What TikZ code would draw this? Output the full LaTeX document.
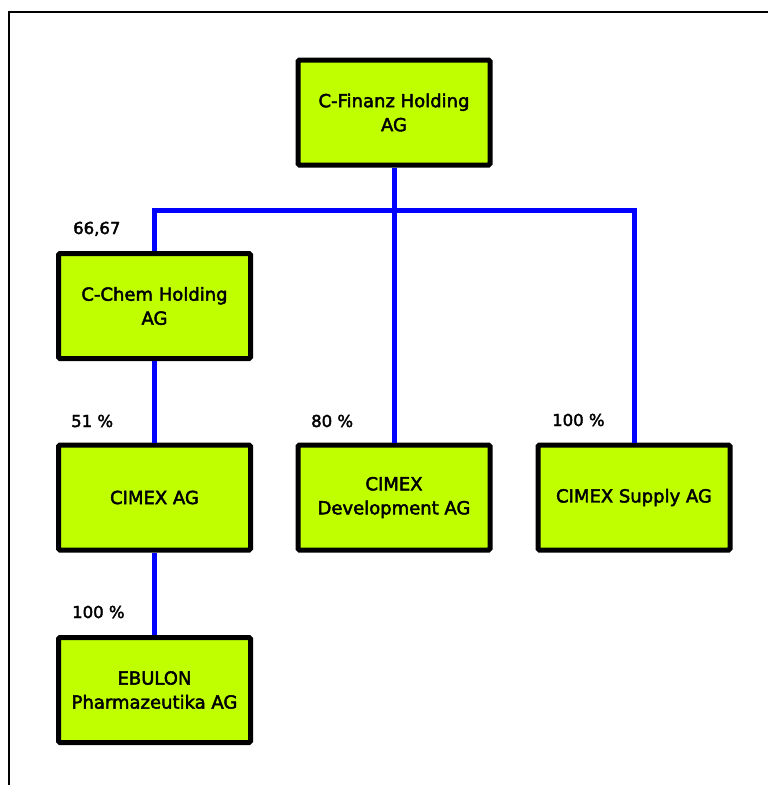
\documentclass[tikz,border=0pt]{standalone}
\usepackage{fontspec}
\setmainfont{DejaVu Sans}
\newfontfamily\orgfont{DejaVu Sans}[FakeBold=2.4]
\definecolor{boxlime}{RGB}{191,255,0}
\definecolor{linkblue}{RGB}{0,0,255}
\begin{document}
\begin{tikzpicture}[x=1pt,y=-1pt,
  company/.style={draw=black, line width=5pt, fill=boxlime, rounded corners=1.5pt,
    minimum width=192pt, minimum height=105pt, inner sep=0pt, align=center,
    font=\orgfont\fontsize{18}{24}\selectfont},
  link/.style={draw=linkblue, line width=5pt},
  share/.style={anchor=base west, inner sep=0pt, font=\orgfont\fontsize{16.5}{20}\selectfont},
  frameline/.style={line width=2pt}]
\useasboundingbox (0,0) rectangle (768,785);

% outer frame (top and left edges)
\draw[frameline] (9,785) -- (9,12) -- (768,12);

% companies
\node[company] (fin)  at (394,112.5) {C-Finanz Holding\\AG};
\node[company] (chem) at (154.5,306) {C-Chem Holding\\AG};
\node[company] (cimex) at (154.5,497.5) {CIMEX AG};
\node[company] (dev)  at (394,497.5) {CIMEX\\Development AG};
\node[company] (sup)  at (634,497.5) {CIMEX Supply AG};
\node[company] (ebu)  at (154.5,690) {EBULON\\Pharmazeutika AG};

% ownership links
\coordinate (bus) at (394,210);
\draw[link] (fin.south) -- (dev.north);
\draw[link] (chem.north) -- (chem.north |- bus) -| (sup.north);
\draw[link] (chem.south) -- (cimex.north);
\draw[link] (cimex.south) -- (ebu.north);

% shareholdings
\node[share] (p1) at (73,234) {66,67};
\node[share] (p2) at (71,427) {51 \%};
\node[share] (p3) at (311,427) {80 \%};
\node[share] (p4) at (552,426) {100 \%};
\node[share] (p5) at (72,618) {100 \%};
\end{tikzpicture}
\end{document}
